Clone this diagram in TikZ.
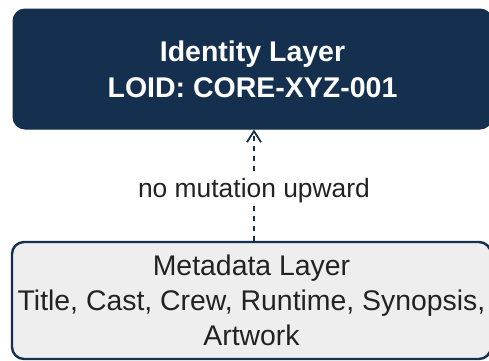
\documentclass[tikz,border=0pt]{standalone}
\usepackage{fontspec}
\setmainfont{Liberation Sans}
\usetikzlibrary{arrows.meta}
\definecolor{navy}{HTML}{15304F}
\definecolor{paleGrey}{HTML}{EEEEEE}
\definecolor{inkGrey}{HTML}{222222}
\tikzset{
  layerbox/.style={rounded corners=12pt, align=center, inner sep=0pt},
  identitybox/.style={layerbox, fill=navy, draw=navy, line width=1pt, text=white,
    font=\fontsize{28.5}{36}\selectfont\bfseries},
  metabox/.style={layerbox, fill=paleGrey, draw=navy, line width=2.4pt, text=inkGrey,
    font=\fontsize{28.4}{35}\selectfont},
  guard/.style={draw=navy, line width=1.8pt, dash pattern=on 5pt off 5pt,
    -{Straight Barb[length=11pt,width=14pt,line width=1.8pt]}},
  guardlabel/.style={fill=white, text=inkGrey, inner sep=3pt,
    font=\fontsize{26.4}{30}\selectfont}
}
\begin{document}
\begin{tikzpicture}[x=1pt, y=-1pt]
  \useasboundingbox (0,0) rectangle (489,360);
  \fill[white] (0,0) rectangle (489,360);
  \node[identitybox, minimum width=479pt, minimum height=120pt] (identity) at (252.5,69)
    {Identity Layer\\LOID: CORE-XYZ-001};
  \node[metabox, minimum width=479pt, minimum height=117pt] (meta) at (251.5,300.5)
    {Metadata Layer\\Title, Cast, Crew, Runtime, Synopsis,\\Artwork};
  \draw[guard] (meta.north -| 254,0) -- node[guardlabel, pos=0.45] (note) {no mutation upward} (identity.south -| 254,0);
\end{tikzpicture}
\end{document}
